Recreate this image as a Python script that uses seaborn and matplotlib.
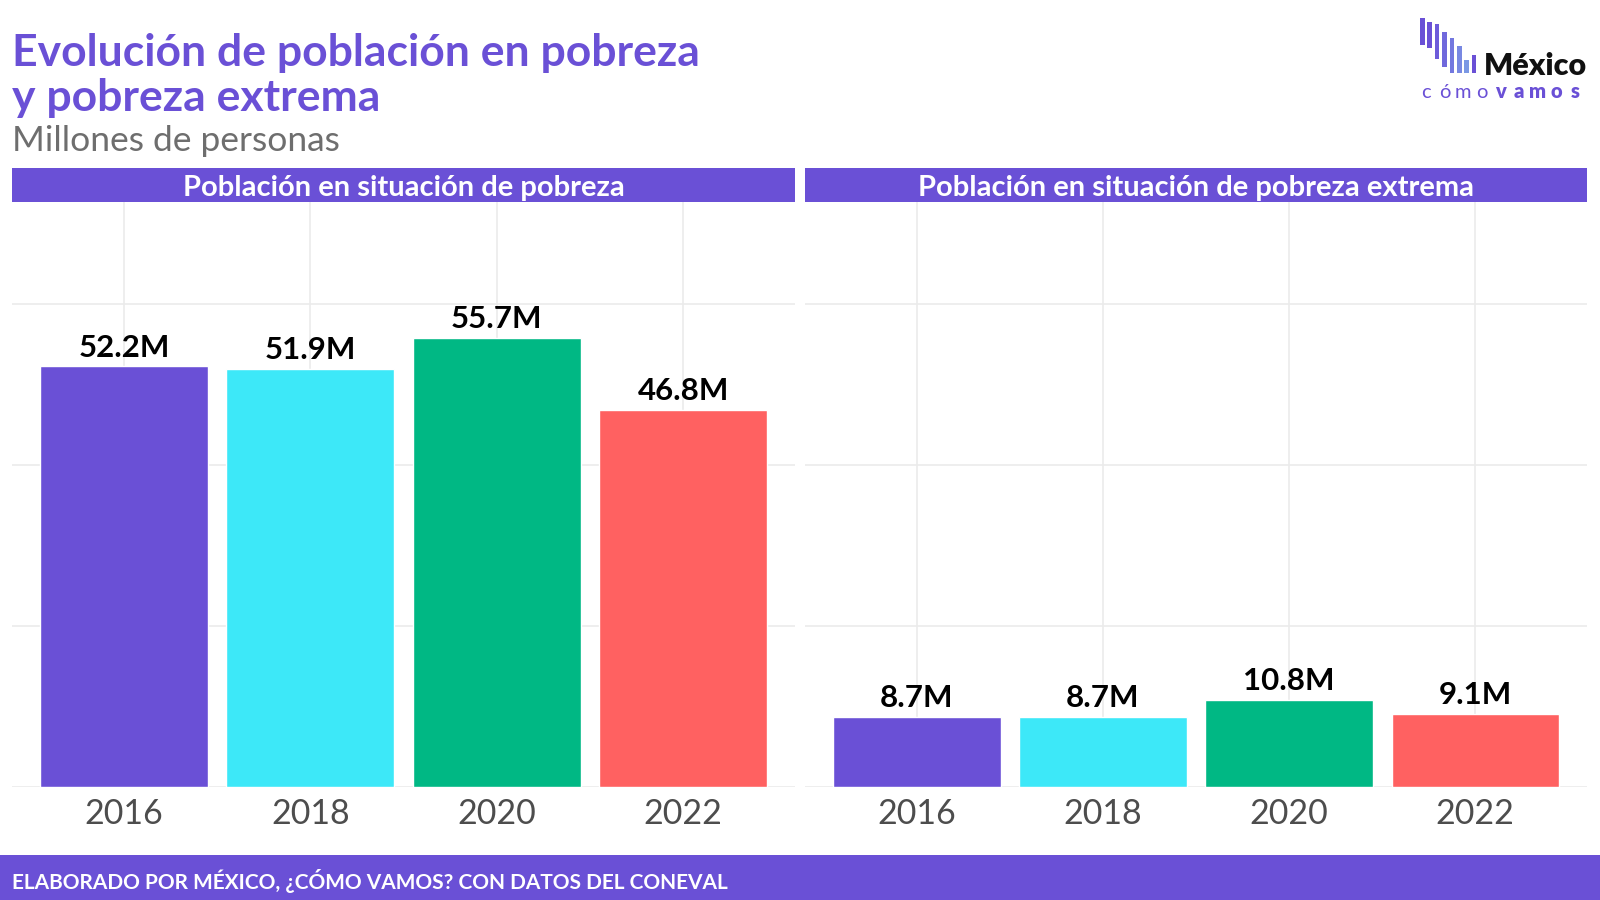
import matplotlib
matplotlib.use("Agg")
import matplotlib.pyplot as plt
import seaborn as sns
import pandas as pd

# Data (millions of people)
years = ["2016", "2018", "2020", "2022"]
pobreza = [52.2, 51.9, 55.7, 46.8]
pobreza_extrema = [8.7, 8.7, 10.8, 9.1]
panel_titles = ["Población en situación de pobreza",
                "Población en situación de pobreza extrema"]
colors = ["#6A50D6", "#3DE8F8", "#00B884", "#FF6161"]

purple = "#6A50D6"

sns.set_theme(style="whitegrid")
plt.rcParams["font.family"] = ["Lato", "DejaVu Sans"]

fig = plt.figure(figsize=(16, 9), dpi=100)

# panel axes in figure fractions
panels = [
    (12 / 1600, 795 / 1600),
    (805 / 1600, 1587 / 1600),
]
y0, y1 = 1 - 787 / 900, 1 - 202 / 900
strip_top = 1 - 168 / 900

for (xl, xr), vals, title in zip(panels, [pobreza, pobreza_extrema], panel_titles):
    ax = fig.add_axes([xl, y0, xr - xl, y1 - y0])
    df = pd.DataFrame({"year": years, "value": vals})
    sns.barplot(data=df, x="year", y="value", hue="year", palette=colors,
                width=0.9, saturation=1, legend=False, ax=ax)
    ax.set_xlim(-0.6, 3.6)
    ax.set_ylim(0, 72.6)
    ax.set_yticks([0, 20, 40, 60])
    ax.set_yticklabels([])
    ax.tick_params(axis="y", length=0)
    ax.tick_params(axis="x", length=0, labelsize=24.5, labelcolor="#4D4D4D", pad=8)
    ax.set_xlabel("")
    ax.set_ylabel("")
    ax.grid(True, color="#EBEBEB", linewidth=1.2)
    ax.set_axisbelow(True)
    for s in ax.spines.values():
        s.set_visible(False)
    for i, v in enumerate(vals):
        ax.text(i, v + 0.6, f"{v:.1f}M", ha="center", va="bottom",
                fontsize=22.5, fontweight="bold", color="black")

    # strip header
    sax = fig.add_axes([xl, y1, xr - xl, strip_top - y1])
    sax.set_facecolor(purple)
    sax.set_xticks([])
    sax.set_yticks([])
    for s in sax.spines.values():
        s.set_visible(False)
    sax.text(0.5, 0.42, title, ha="center", va="center", color="white",
             fontsize=21, fontweight="bold", transform=sax.transAxes)

# title and subtitle
fig.text(12 / 1600, 1 - 53 / 900, "Evolución de población en pobreza",
         ha="left", va="center", fontsize=32, fontweight="bold", color=purple)
fig.text(12 / 1600, 1 - 98 / 900, "y pobreza extrema",
         ha="left", va="center", fontsize=32, fontweight="bold", color=purple)
fig.text(12 / 1600, 1 - 141 / 900, "Millones de personas", ha="left", va="center",
         fontsize=25.5, color="#6E6E6E")

# footer bar
fax = fig.add_axes([0, 0, 1, 45 / 900])
fax.set_facecolor(purple)
fax.set_xticks([])
fax.set_yticks([])
for s in fax.spines.values():
    s.set_visible(False)
fax.text(12 / 1600, 0.42, "ELABORADO POR MÉXICO, ¿CÓMO VAMOS? CON DATOS DEL CONEVAL",
         ha="left", va="center", color="white", fontsize=15, fontweight="bold",
         transform=fax.transAxes)

# logo, drawn in pixel coordinates of the figure corner
lax = fig.add_axes([1400 / 1600, 1 - 110 / 900, 200 / 1600, 100 / 900])
lax.set_xlim(1400, 1600)
lax.set_ylim(110, 10)
lax.axis("off")
logo_cols = ["#6A50D6", "#6A50D6", "#6D5BDA", "#7068DC", "#7378DF",
             "#7888E2", "#7B98E4", "#6A50D6"]
logo_tops = [18, 22, 24, 32, 38, 46, 60, 55]
logo_bots = [45, 48, 59, 67, 73, 73, 73, 73]
for k, (c, t, b) in enumerate(zip(logo_cols, logo_tops, logo_bots)):
    lax.add_patch(plt.Rectangle((1420 + k * 7.4, t), 4.5, b - t, color=c, linewidth=0))
lax.text(1484, 75, "México", fontsize=22, fontweight="heavy", color="#111111",
         ha="left", va="baseline")
for k, ch in enumerate("cómovamos"):
    lax.text(1426 + k * 18.6, 98, ch, fontsize=14.5, color=purple,
             fontweight="heavy" if k >= 4 else "normal", ha="center", va="baseline")

fig.savefig("out.png", dpi=100)
